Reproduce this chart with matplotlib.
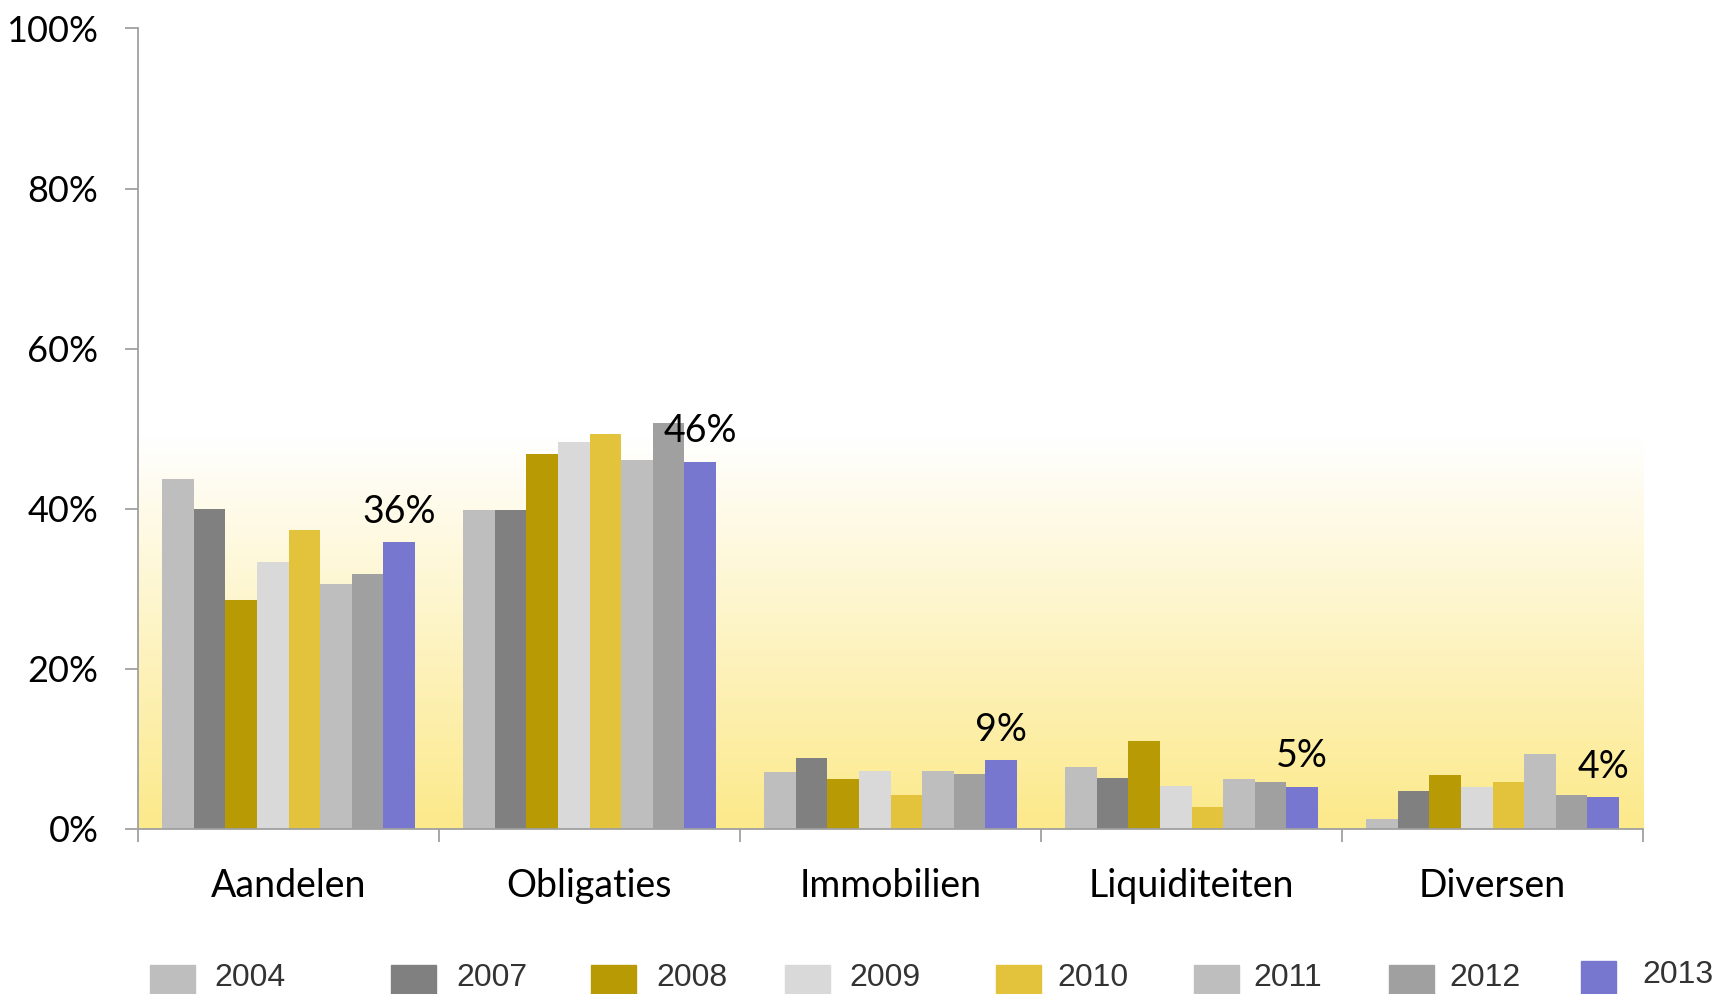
import numpy as np
import matplotlib
matplotlib.use("Agg")
import matplotlib.pyplot as plt
from matplotlib.patches import Rectangle
from matplotlib.colors import LinearSegmentedColormap

# data
categories = ["Aandelen", "Obligaties", "Immobilien", "Liquiditeiten", "Diversen"]
years = ["2004", "2007", "2008", "2009", "2010", "2011", "2012", "2013"]
v2004 = [43.7, 39.9, 7.1, 7.8, 1.2]
v2007 = [40.0, 39.8, 8.9, 6.4, 4.7]
v2008 = [28.6, 46.9, 6.3, 11.0, 6.7]
v2009 = [33.3, 48.4, 7.2, 5.4, 5.2]
v2010 = [37.3, 49.4, 4.3, 2.7, 5.9]
v2011 = [30.6, 46.1, 7.2, 6.3, 9.4]
v2012 = [31.9, 50.7, 6.9, 5.9, 4.2]
v2013 = [35.8, 45.9, 8.6, 5.3, 4.0]
labels_2013 = ["36%", "46%", "9%", "5%", "4%"]
series = [v2004, v2007, v2008, v2009, v2010, v2011, v2012, v2013]
colors = ["#BEBEBE", "#808080", "#B89B04", "#D9D9D9", "#E3C33B", "#BEBEBE", "#A0A0A0", "#7777CF"]

W, H = 1718, 994
fig = plt.figure(figsize=(W / 100, H / 100), dpi=100)
ax = fig.add_axes([138 / W, 1 - 829 / H, (1643 - 138) / W, (829 - 28.5) / H])

# yellow gradient behind the bars
grad = LinearSegmentedColormap.from_list("g", ["#FCE98A", "#FFFFFF"])
ax.imshow(np.linspace(0, 1, 256).reshape(-1, 1), cmap=grad, origin="lower",
          extent=(-0.5, 4.5, 0, 49), aspect="auto", zorder=0)

x = np.arange(len(categories))
bw = 0.105
for i, (vals, col) in enumerate(zip(series, colors)):
    ax.bar(x + (i - 3.5) * bw, vals, bw, color=col, zorder=2, linewidth=0)

for xi, v, lab in zip(x, v2013, labels_2013):
    ax.annotate(lab, (xi + 3.5 * bw, v), xytext=(0, 14), textcoords="offset points",
                ha="center", va="baseline", fontsize=27, family="Lato", zorder=3)

ax.set_xlim(-0.5, 4.5)
ax.set_ylim(0, 100)
ax.set_yticks(range(0, 101, 20))
ax.set_yticklabels([f"{t}%" for t in range(0, 101, 20)], fontsize=26, family="Lato")
ax.set_xticks(x)
ax.set_xticklabels(categories, fontsize=27, family="Lato")
ax.set_xticks(np.arange(-0.5, 5, 1), minor=True)
ax.tick_params(axis="x", which="major", length=0, pad=28)
ax.tick_params(axis="x", which="minor", length=9.5, width=1.3, color="#A0A0A0")
ax.tick_params(axis="y", length=9.5, width=1.3, color="#A0A0A0", pad=19)
for s in ["top", "right"]:
    ax.spines[s].set_visible(False)
for s in ["left", "bottom"]:
    ax.spines[s].set_color("#A0A0A0")
    ax.spines[s].set_linewidth(1.3)

# legend drawn by hand (irregular spacing in the original)
sq_left = [150, 391, 591, 785, 996, 1194, 1389, 1581]
txt_left = [214, 456, 656, 849, 1057, 1253, 1449, 1642]
for i, (yr, col) in enumerate(zip(years, colors)):
    last = i == len(years) - 1
    top = 961 if last else 965
    w = 35 if last else 45
    fig.patches.append(Rectangle((sq_left[i] / W, 0), w / W, (H - top) / H,
                                 transform=fig.transFigure, color=col))
    base = 983 if last else 986
    fig.text(txt_left[i] / W, 1 - base / H, yr, fontsize=23, color="#333333",
             family="Liberation Sans", va="baseline", ha="left")

fig.savefig("out.png", dpi=100)
